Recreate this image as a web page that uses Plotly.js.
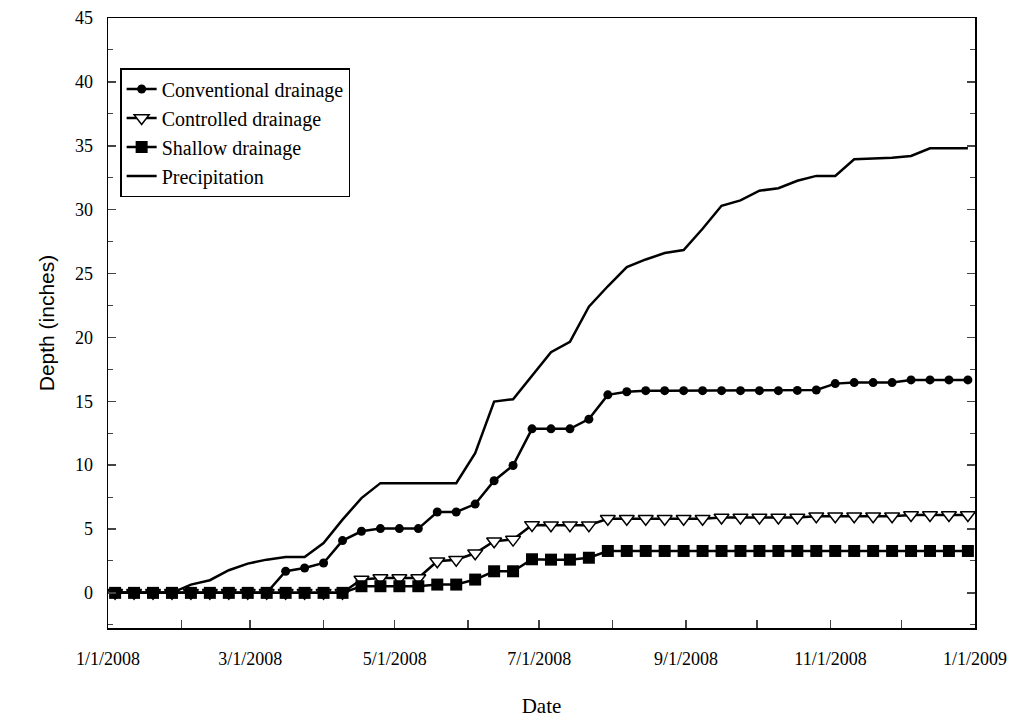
<!DOCTYPE html>
<html>
<head>
<meta charset="utf-8">
<script src="https://cdn.plot.ly/plotly-3.0.1.min.js"></script>
<style>body{margin:0;background:#fff}</style>
</head>
<body>
<div id="chart" style="width:1016px;height:723px"></div>
<script>
// sample dates, every 8 days through 2008
const dates = ["2008-01-04","2008-01-12","2008-01-20","2008-01-28","2008-02-05","2008-02-13","2008-02-21","2008-02-29",
	"2008-03-08","2008-03-16","2008-03-24","2008-04-01","2008-04-09","2008-04-17","2008-04-25","2008-05-03",
	"2008-05-11","2008-05-19","2008-05-27","2008-06-04","2008-06-12","2008-06-20","2008-06-28","2008-07-06",
	"2008-07-14","2008-07-22","2008-07-30","2008-08-07","2008-08-15","2008-08-23","2008-08-31","2008-09-08",
	"2008-09-16","2008-09-24","2008-10-02","2008-10-10","2008-10-18","2008-10-26","2008-11-03","2008-11-11",
	"2008-11-19","2008-11-27","2008-12-05","2008-12-13","2008-12-21","2008-12-29"];

const conventional = [0,0,0,0,0,0,0,0,0,1.69,1.95,2.34,4.09,4.82,5.03,5.03,5.03,6.33,6.33,6.95,8.78,9.97,12.84,12.84,
	12.84,13.6,15.5,15.74,15.83,15.83,15.83,15.83,15.83,15.83,15.83,15.83,15.85,15.88,16.38,16.46,16.46,16.46,16.67,16.67,16.67,16.67];
const controlled = [0,0,0,0,0,0,0,0,0,0,0,0,0,1.04,1.17,1.17,1.17,2.47,2.6,3.1,4.04,4.17,5.32,5.3,
	5.3,5.3,5.8,5.8,5.8,5.8,5.8,5.8,5.9,5.9,5.9,5.9,5.9,6.0,6.0,6.0,6.0,6.0,6.1,6.1,6.1,6.1];
const shallow = [0,0,0,0,0,0,0,0,0,0,0,0,0,0.52,0.52,0.52,0.52,0.65,0.65,1.04,1.69,1.69,2.63,2.6,
	2.6,2.75,3.28,3.28,3.28,3.28,3.28,3.28,3.28,3.28,3.28,3.28,3.28,3.28,3.28,3.28,3.28,3.28,3.28,3.28,3.28,3.28];
const precipitation = [0,0,0,0,0.65,0.99,1.77,2.29,2.6,2.81,2.81,3.9,5.73,7.42,8.59,8.59,8.59,8.59,8.59,10.94,14.97,15.16,17.0,18.84,
	19.65,22.4,24.0,25.5,26.1,26.6,26.84,28.5,30.3,30.72,31.48,31.68,32.26,32.64,32.64,33.94,34.0,34.06,34.2,34.8,34.8,34.8];

const tickDates = ["2008-01-01","2008-02-01","2008-03-01","2008-04-01","2008-05-01","2008-06-01","2008-07-01",
	"2008-08-01","2008-09-01","2008-10-01","2008-11-01","2008-12-01","2009-01-01"];
const tickLabels = ["1/1/2008","","3/1/2008","","5/1/2008","","7/1/2008","","9/1/2008","","11/1/2008","","1/1/2009"];

const serif = "Liberation Serif, Times New Roman, serif";

let data = [
		{
			x: dates, y: conventional, type: "scatter", mode: "lines+markers",
			name: "Conventional drainage",
			line: { color: "black", width: 2.5 },
			marker: { symbol: "circle", size: 9, color: "black" },
		},
		{
			x: dates, y: controlled, type: "scatter", mode: "lines+markers",
			name: "Controlled drainage",
			line: { color: "black", width: 2.5 },
			marker: { symbol: "triangle-down", size: 13, color: "white", line: { color: "black", width: 1.5 } },
		},
		{
			x: dates, y: shallow, type: "scatter", mode: "lines+markers",
			name: "Shallow drainage",
			line: { color: "black", width: 2.5 },
			marker: { symbol: "square", size: 12, color: "black" },
		},
		{
			x: dates, y: precipitation, type: "scatter", mode: "lines",
			name: "Precipitation",
			line: { color: "black", width: 2.5 },
		},
	],
	layout = {
		width: 1016,
		height: 723,
		paper_bgcolor: "white",
		plot_bgcolor: "white",
		margin: { l: 108, r: 41, t: 18, b: 95 },
		font: { family: serif, size: 18, color: "black" },
		showlegend: true,
		legend: {
			x: 0.014, y: 0.918, xanchor: "left", yanchor: "top",
			bordercolor: "black", borderwidth: 1.5, bgcolor: "white",
			font: { family: serif, size: 20 },
			tracegroupgap: 0,
		},
		xaxis: {
			type: "date",
			range: ["2008-01-01", "2009-01-01"],
			tickmode: "array",
			tickvals: tickDates,
			ticktext: tickLabels,
			ticks: "inside", ticklen: 8, tickwidth: 1.5,
			ticklabelstandoff: 14,
			showline: true, linecolor: "black", linewidth: 1.5, mirror: true,
			showgrid: false, zeroline: false,
			title: { text: "Date", font: { family: serif, size: 21 }, standoff: 30 },
		},
		yaxis: {
			range: [-2.75, 45],
			dtick: 5, tick0: 0,
			ticks: "inside", ticklen: 8, tickwidth: 1.5,
			ticklabelstandoff: 10,
			minor: { dtick: 2.5, ticks: "inside", ticklen: 5, tickwidth: 1 },
			showline: true, linecolor: "black", linewidth: 1.5, mirror: "ticks",
			showgrid: false, zeroline: false,
			title: { text: "Depth (inches)", font: { family: "Liberation Sans, Arial, sans-serif", size: 21 }, standoff: 14 },
		},
	};

Plotly.newPlot("chart", data, layout, { staticPlot: true });
</script>
</body>
</html>
